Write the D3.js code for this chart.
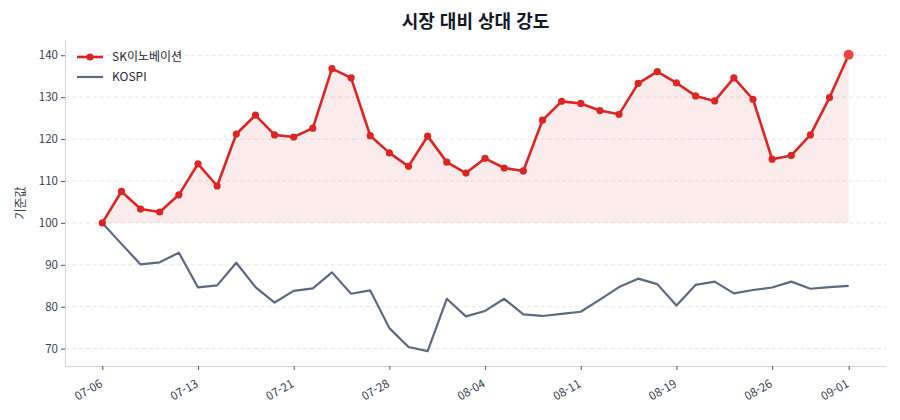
<!DOCTYPE html>
<html lang="ko">
<head>
  <meta charset="UTF-8">
  <title>시장 대비 상대 강도</title>
  <style>
    body {
      margin: 0;
      background: #fff;
      font-family: "Noto Sans CJK KR", "Noto Sans", sans-serif;
    }
    .grid line {
      stroke: #e5e7eb;
      stroke-dasharray: 4,3;
    }
    .axis path {
      stroke: #d1d5db;
    }
    .axis line {
      stroke: #4b5563;
    }
    .axis text {
      fill: #374151;
      font-size: 11.5px;
      font-family: "Noto Sans CJK KR", sans-serif;
    }
  </style>
</head>
<body>
  <svg></svg>

  <script src="https://d3js.org/d3.v7.min.js"></script>
  <script>
    const width = 900, height = 420;
    const margin = {top: 40, right: 14, bottom: 54, left: 65};

    // 거래일 (x축은 인덱스 기준)
    const dates = [
      "07-06", "07-07", "07-10", "07-11", "07-12", "07-13", "07-14", "07-17", "07-18", "07-19",
      "07-21", "07-24", "07-25", "07-26", "07-27", "07-28", "07-31", "08-01", "08-02", "08-03",
      "08-04", "08-07", "08-08", "08-09", "08-10", "08-11", "08-14", "08-16", "08-17", "08-18",
      "08-19", "08-21", "08-22", "08-23", "08-24", "08-26", "08-28", "08-29", "08-30", "09-01"
    ];
    const skValues = [
      100.0, 107.5, 103.3, 102.6, 106.7, 114.1, 108.8, 121.2, 125.7, 121.0,
      120.5, 122.6, 136.8, 134.6, 120.8, 116.7, 113.5, 120.7, 114.5, 111.9,
      115.4, 113.1, 112.4, 124.5, 129.0, 128.5, 126.8, 125.9, 133.3, 136.1,
      133.4, 130.3, 129.1, 134.6, 129.5, 115.2, 116.1, 121.0, 129.9, 140.1
    ];
    const kospiValues = [
      100.0, 95.0, 90.1, 90.6, 92.9, 84.6, 85.1, 90.5, 84.7, 81.0,
      83.8, 84.4, 88.2, 83.1, 83.9, 74.9, 70.4, 69.4, 81.9, 77.7,
      79.0, 81.9, 78.2, 77.8, 78.3, 78.8, 81.7, 84.7, 86.7, 85.4,
      80.3, 85.2, 86.0, 83.2, 84.0, 84.6, 86.0, 84.3, 84.7, 85.0
    ];
    const yTicks = [70, 80, 90, 100, 110, 120, 130, 140];
    const xTickIdx = [0, 5, 10, 15, 20, 25, 30, 35, 39];
    const baseValue = 100;

    const skColor = "#dc2626";
    const kospiColor = "#5a6a82";

    const svg = d3.select("svg")
      .attr("width", width)
      .attr("height", height);

    const n = dates.length;
    const padX = (n - 1) * 0.05;
    const allVals = skValues.concat(kospiValues);
    const yMin = d3.min(allVals), yMax = d3.max(allVals);
    const padY = (yMax - yMin) * 0.05;

    const x = d3.scaleLinear()
      .domain([-padX, n - 1 + padX])
      .range([margin.left, width - margin.right]);

    const y = d3.scaleLinear()
      .domain([yMin - padY, yMax + padY])
      .range([height - margin.bottom, margin.top]);

    // grid
    svg.append("g")
      .attr("class", "grid")
      .selectAll("line")
      .data(yTicks)
      .join("line")
      .attr("x1", margin.left)
      .attr("x2", width - margin.right)
      .attr("y1", d => y(d))
      .attr("y2", d => y(d));

    // filled area between SK and baseline
    const area = d3.area()
      .x((d, i) => x(i))
      .y0(y(baseValue))
      .y1(d => y(d));

    svg.append("path")
      .datum(skValues)
      .attr("d", area)
      .attr("fill", skColor)
      .attr("fill-opacity", 0.09);

    const line = d3.line()
      .x((d, i) => x(i))
      .y(d => y(d));

    svg.append("path")
      .datum(kospiValues)
      .attr("d", line)
      .attr("fill", "none")
      .attr("stroke", kospiColor)
      .attr("stroke-width", 2.2)
      .attr("stroke-linejoin", "round");

    svg.append("path")
      .datum(skValues)
      .attr("d", line)
      .attr("fill", "none")
      .attr("stroke", skColor)
      .attr("stroke-width", 2.6)
      .attr("stroke-linejoin", "round");

    svg.append("g")
      .selectAll("circle")
      .data(skValues)
      .join("circle")
      .attr("cx", (d, i) => x(i))
      .attr("cy", d => y(d))
      .attr("r", (d, i) => i === n - 1 ? 5 : 3.6)
      .attr("fill", (d, i) => i === n - 1 ? "#ef4444" : skColor);

    // axes
    const xAxis = svg.append("g")
      .attr("class", "axis")
      .attr("transform", `translate(0,${height - margin.bottom})`)
      .call(d3.axisBottom(x)
        .tickValues(xTickIdx)
        .tickFormat(i => dates[i])
        .tickSize(4)
        .tickSizeOuter(0));

    xAxis.selectAll("text")
      .attr("y", 0)
      .attr("dy", "0.35em")
      .attr("text-anchor", "end")
      .attr("transform", "translate(-1.5,16.5) rotate(-30)");

    svg.append("g")
      .attr("class", "axis")
      .attr("transform", `translate(${margin.left},0)`)
      .call(d3.axisLeft(y)
        .tickValues(yTicks)
        .tickSize(4)
        .tickSizeOuter(0));

    // y label
    svg.append("text")
      .attr("transform", `translate(25,${(margin.top + height - margin.bottom) / 2}) rotate(-90)`)
      .attr("text-anchor", "middle")
      .attr("font-size", 12)
      .attr("fill", "#374151")
      .text("기준값");

    // title
    svg.append("text")
      .attr("x", (margin.left + width - margin.right) / 2)
      .attr("y", 28)
      .attr("text-anchor", "middle")
      .attr("font-size", 18)
      .attr("font-weight", "bold")
      .attr("fill", "#111827")
      .text("시장 대비 상대 강도");

    // legend
    const legendItems = [
      {label: "SK이노베이션", color: skColor, marker: true},
      {label: "KOSPI", color: kospiColor, marker: false}
    ];
    const legend = svg.append("g")
      .selectAll("g")
      .data(legendItems)
      .join("g")
      .attr("transform", (d, i) => `translate(77,${57 + i * 20})`);

    legend.append("line")
      .attr("x1", 0).attr("x2", 26)
      .attr("stroke", d => d.color)
      .attr("stroke-width", d => d.marker ? 2.6 : 2.2);

    legend.filter(d => d.marker)
      .append("circle")
      .attr("cx", 13)
      .attr("r", 3.6)
      .attr("fill", d => d.color);

    legend.append("text")
      .attr("x", 35)
      .attr("dy", "0.35em")
      .attr("font-size", 12)
      .attr("fill", "#1f2937")
      .text(d => d.label);
  </script>
</body>
</html>
